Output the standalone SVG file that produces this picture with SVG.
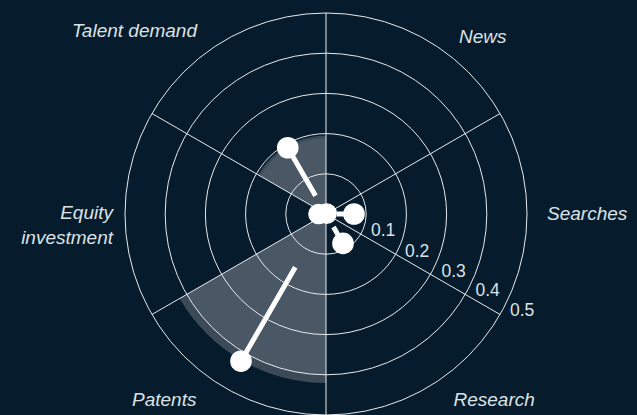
<svg xmlns="http://www.w3.org/2000/svg" width="637" height="415" viewBox="0 0 637 415">
<style>
.grid{fill:none;stroke:#e6eaee;stroke-width:1}
.lbl{font-family:"Liberation Sans",Arial,sans-serif;font-style:italic;font-size:19px;fill:#dde2e7}
.tick{font-family:"Liberation Sans",Arial,sans-serif;font-size:17.5px;fill:#dde2e7}
.stem{stroke:#ffffff;stroke-width:5;stroke-linecap:butt}
.dot{fill:#ffffff}
.shadeOut{fill:#3c4957}
.shadeIn{fill:#4a5765}
</style>
<rect width="637" height="415" fill="#061c2c"/>
<g id="shades">
<path class="shadeOut" d="M326,214 L326,135.5 A78.5,78.5 0 0 0 258.02,174.75 Z"/>
<path class="shadeIn" d="M326,214 L326,138 A76,76 0 0 0 260.18,176 Z"/>
<path class="shadeOut" d="M326,214 L179.64,298.5 A169,169 0 0 0 326,383 Z"/>
<path class="shadeIn" d="M326,214 L186.57,294.5 A161,161 0 0 0 326,375 Z"/>
</g>
<g id="grid">
<circle class="grid" cx="326" cy="214" r="40.2"/>
<circle class="grid" cx="326" cy="214" r="80.4"/>
<circle class="grid" cx="326" cy="214" r="120.6"/>
<circle class="grid" cx="326" cy="214" r="160.8"/>
<circle class="grid" cx="326" cy="214" r="201"/>
<line class="grid" x1="326" y1="13" x2="326" y2="415"/>
<line class="grid" x1="151.93" y1="113.5" x2="500.07" y2="314.5"/>
<line class="grid" x1="151.93" y1="314.5" x2="500.07" y2="113.5"/>
</g>
<g id="ticks">
<text class="tick" x="371" y="235.5">0.1</text>
<text class="tick" x="405" y="256.5">0.2</text>
<text class="tick" x="441.5" y="276.5">0.3</text>
<text class="tick" x="475.5" y="295.5">0.4</text>
<text class="tick" x="510" y="316">0.5</text>
</g>
<g id="connectors">
<line class="stem" x1="315.5" y1="195.8" x2="287.75" y2="147.75"/>
<line class="stem" x1="295.25" y1="267.3" x2="241" y2="361.2"/>
<line class="stem" x1="337" y1="214" x2="354" y2="214"/>
<line class="stem" x1="333.5" y1="227" x2="343" y2="243.4"/>
</g>
<g id="node-talent"><circle class="dot" cx="287.75" cy="147.75" r="10.8"/><text class="lbl" x="72" y="37">Talent demand</text></g>
<g id="node-news"><circle class="dot" cx="326.7" cy="213.6" r="10.3"/><text class="lbl" x="459" y="43">News</text></g>
<g id="node-searches"><circle class="dot" cx="354" cy="214" r="10.8"/><text class="lbl" x="547" y="220">Searches</text></g>
<g id="node-research"><circle class="dot" cx="343" cy="243.4" r="10.8"/><text class="lbl" x="453.5" y="405.5">Research</text></g>
<g id="node-patents"><circle class="dot" cx="241" cy="361.2" r="10.8"/><text class="lbl" x="132" y="405.5">Patents</text></g>
<g id="node-equity"><circle class="dot" cx="318.5" cy="214" r="10.3"/><text class="lbl" x="113" y="218.5" text-anchor="end">Equity</text><text class="lbl" x="113" y="243.5" text-anchor="end">investment</text></g>
</svg>
